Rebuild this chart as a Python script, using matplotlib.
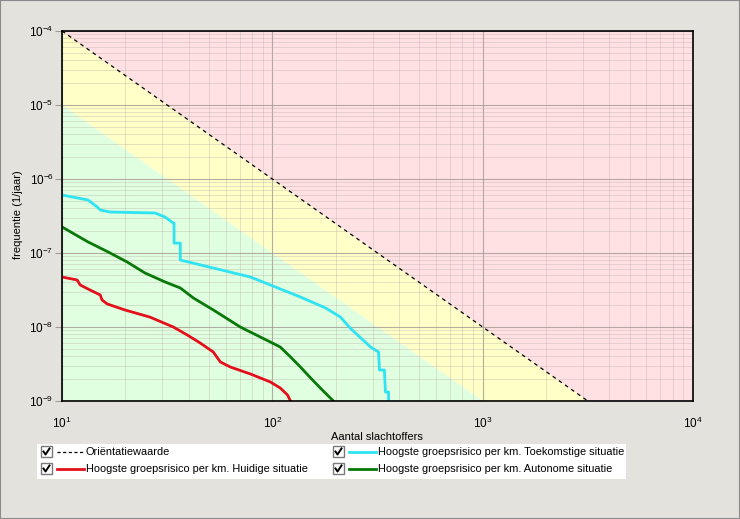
import matplotlib
matplotlib.use("Agg")
import matplotlib.pyplot as plt
from matplotlib.patches import Rectangle
from matplotlib.lines import Line2D
from matplotlib.ticker import LogLocator, FixedLocator, FuncFormatter, NullFormatter
import numpy as np

plt.rcParams['font.family'] = ['Liberation Sans', 'DejaVu Sans']
plt.rcParams['mathtext.fontset'] = 'custom'
plt.rcParams['mathtext.rm'] = 'Liberation Sans'
plt.rcParams['mathtext.it'] = 'Liberation Sans:italic'

# ---- data ----
orient_N = [10, 10000]
orient_f = [1e-4, 1e-10]
yellow_low_f = [1e-5, 1e-11]

toek_N = [10, 13.3, 14.7, 15.2, 16.9, 27.7, 30.9, 33.8, 34.1, 34.1, 36.5, 36.5, 78.6, 97.8, 136, 179, 211,
          235, 293, 320, 323, 341, 345, 357, 357]
toek_f = [6.08e-7, 5.20e-7, 4.19e-7, 3.81e-7, 3.58e-7, 3.47e-7, 3.06e-7, 2.54e-7, 2.54e-7, 1.36e-7, 1.36e-7,
          8.04e-8, 4.74e-8, 3.70e-8, 2.54e-8, 1.81e-8, 1.36e-8, 9.6e-9, 5.37e-9, 4.59e-9, 2.62e-9, 2.62e-9,
          1.32e-9, 1.32e-9, 1.0e-9]

auto_N = [10, 13.3, 16.6, 20.4, 24.8, 30.9, 36.5, 42.1, 52.4, 70.4, 97.8, 109, 122, 136, 152, 169, 195]
auto_f = [2.25e-7, 1.41e-7, 1.03e-7, 7.56e-8, 5.37e-8, 4.06e-8, 3.37e-8, 2.47e-8, 1.70e-8, 1.0e-8, 6.27e-9,
          5.37e-9, 3.94e-9, 2.88e-9, 2.05e-9, 1.50e-9, 1.0e-9]

huid_N = [10, 11.8, 12.2, 13.6, 15.2, 15.5, 16.4, 19.9, 26.2, 33.8, 39.4, 45.4, 52.4, 56.6, 63.1, 78.6, 97.8,
          109, 118, 122]
huid_f = [4.74e-8, 4.32e-8, 3.70e-8, 3.16e-8, 2.71e-8, 2.32e-8, 2.05e-8, 1.70e-8, 1.36e-8, 1.0e-8, 7.80e-9,
          6.08e-9, 4.59e-9, 3.37e-9, 2.88e-9, 2.32e-9, 1.81e-9, 1.50e-9, 1.21e-9, 1.0e-9]

x_ticks = [10, 100, 1000, 10000]
y_ticks = [1e-9, 1e-8, 1e-7, 1e-6, 1e-5, 1e-4]

labels = ["Oriëntatiewaarde",
          "Hoogste groepsrisico per km. Huidige situatie",
          "Hoogste groepsrisico per km. Toekomstige situatie",
          "Hoogste groepsrisico per km. Autonome situatie"]

# ---- colours ----
BG = '#e4e2dd'
PINK = '#ffe0e3'
YELLOW = '#ffffc8'
GREEN = '#e0ffe0'
C_TOEK = '#2fe3f2'
C_AUTO = '#087808'
C_HUID = '#e3101c'

W, H = 740, 519
fig = plt.figure(figsize=(W / 100, H / 100), dpi=100, facecolor=BG)
ax = fig.add_axes([62 / W, 1 - 401 / H, 631 / W, 370 / H])
ax.set_xscale('log')
ax.set_yscale('log')
ax.set_xlim(10, 10000)
ax.set_ylim(1e-9, 1e-4)

# background zones
ax.fill_between(orient_N, orient_f, [1e-2, 1e-2], color=PINK, lw=0, zorder=0)
ax.fill_between(orient_N, yellow_low_f, orient_f, color=YELLOW, lw=0, zorder=0)
ax.fill_between(orient_N, [1e-14, 1e-14], yellow_low_f, color=GREEN, lw=0, zorder=0)

# grid
ax.xaxis.set_major_locator(FixedLocator(x_ticks))
ax.yaxis.set_major_locator(FixedLocator(y_ticks))
ax.xaxis.set_minor_locator(LogLocator(base=10, subs=np.arange(2, 10)))
ax.yaxis.set_minor_locator(LogLocator(base=10, subs=np.arange(2, 10), numticks=20))
ax.xaxis.set_minor_formatter(NullFormatter())
ax.yaxis.set_minor_formatter(NullFormatter())
ax.grid(which='major', color='#a39a92', lw=0.8, alpha=0.8, zorder=1)
ax.grid(which='minor', color='#b5aca4', lw=0.7, alpha=0.35, zorder=1)
ax.set_axisbelow(True)

fmt = FuncFormatter(lambda v, p: r'$\mathregular{10^{%d}}$' % int(round(np.log10(v))))
ax.xaxis.set_major_formatter(fmt)
ax.yaxis.set_major_formatter(fmt)
ax.tick_params(axis='x', which='both', length=0, pad=11, labelsize=8.5)
ax.tick_params(axis='y', which='major', length=5, color='#a39a92', pad=1, labelsize=8.5)
ax.tick_params(axis='y', which='minor', length=0)

for s in ax.spines.values():
    s.set_color('black')
    s.set_linewidth(1.2)
    s.set_zorder(5)

# curves
ax.plot(orient_N, orient_f, color='black', lw=0.9, ls=(0, (3, 3)), zorder=3)
ax.plot(huid_N, huid_f, color=C_HUID, lw=2, zorder=4)
ax.plot(auto_N, auto_f, color=C_AUTO, lw=2, zorder=4)
ax.plot(toek_N, toek_f, color=C_TOEK, lw=2, zorder=4)

fig.text(377 / W, 1 - 437 / H, 'Aantal slachtoffers', ha='center', va='center', fontsize=8)
fig.text(18 / W, 1 - 215 / H, 'frequentie (1/jaar)', rotation=90, ha='center', va='center', fontsize=8)

# legend (manual)
def px(x, y):
    return x / W, 1 - y / H

fig.patches.append(Rectangle(px(37, 479), (626 - 37) / W, (479 - 444) / H, transform=fig.transFigure,
                             facecolor='white', edgecolor='none', zorder=1))
entries = [(41, 452, 'black', (0, (2.5, 2)), 0.9, labels[0]),
           (41, 469, C_HUID, '-', 2, labels[1]),
           (333, 452, C_TOEK, '-', 2, labels[2]),
           (333, 469, C_AUTO, '-', 2, labels[3])]
for x0, yc, col, ls, lw, lab in entries:
    fig.patches.append(Rectangle(px(x0, yc + 5), 11 / W, 11 / H, transform=fig.transFigure,
                                 facecolor='white', edgecolor='#7a7a7a', lw=1, zorder=2))
    fig.lines.append(Line2D([(x0 + 2.5) / W, (x0 + 4.5) / W, (x0 + 8.5) / W],
                            [1 - (yc - 0.5) / H, 1 - (yc + 2.5) / H, 1 - (yc - 3.5) / H],
                            transform=fig.transFigure, color='black', lw=1.4, zorder=3))
    fig.lines.append(Line2D([(x0 + 16) / W, (x0 + 43) / W], [1 - yc / H, 1 - yc / H],
                            transform=fig.transFigure, color=col, ls=ls, lw=lw, zorder=3))
    fig.text((x0 + 45) / W, 1 - yc / H, lab, fontsize=7.9, va='center', ha='left', zorder=3)

# outer panel border
fig.patches.append(Rectangle((0, 0), 1, 1, transform=fig.transFigure, facecolor='none',
                             edgecolor='#8a8a8a', lw=1.5, zorder=10))

fig.savefig('out.png', dpi=100, facecolor=BG)
